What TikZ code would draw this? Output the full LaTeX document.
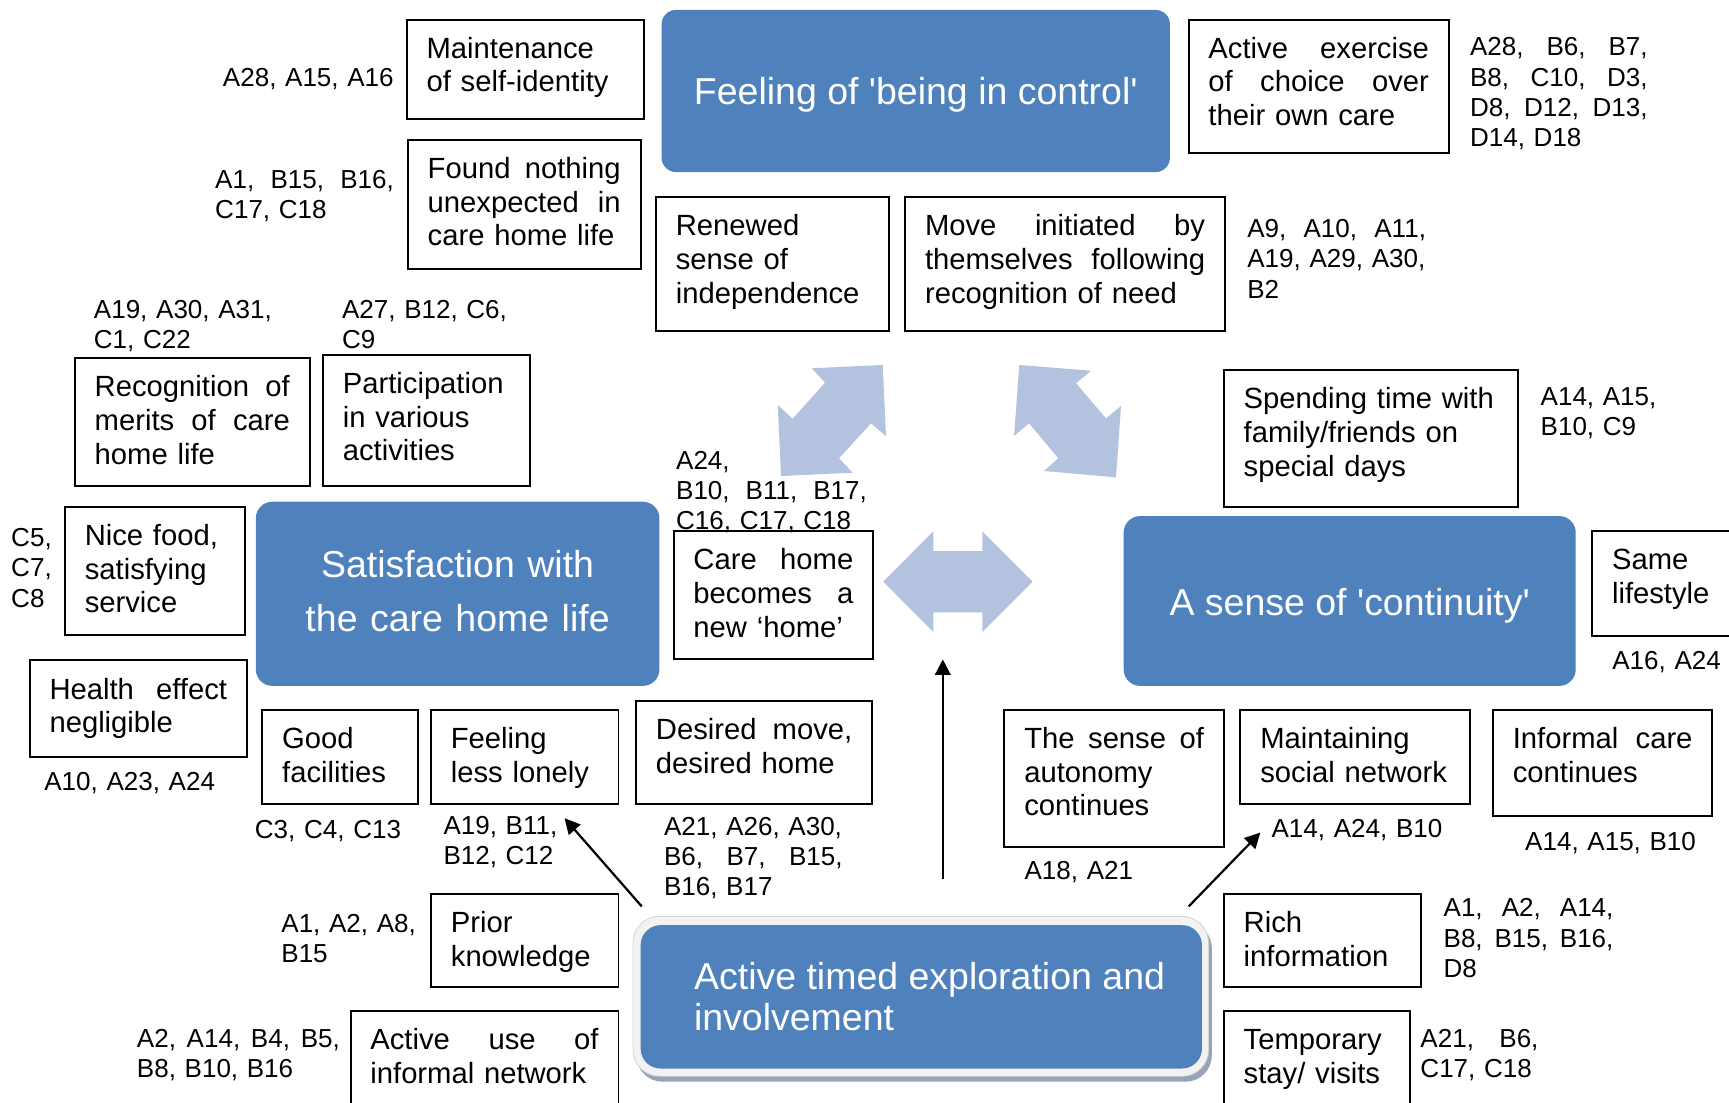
\documentclass[tikz,border=0pt]{standalone}
\usepackage{fontspec}
\setmainfont{Liberation Sans}
\usetikzlibrary{arrows.meta,backgrounds}

\definecolor{themeblue}{HTML}{4F81BD}
\definecolor{flowblue}{HTML}{B3C3DF}
\definecolor{rimgray}{HTML}{F2F2F2}
\definecolor{rimedge}{HTML}{D6D6D6}
\definecolor{shadowblue}{HTML}{95A4B9}

\newcommand\boxfont{\fontsize{26.5pt}{30.5pt}\selectfont}
\newcommand\reffont{\fontsize{23.6pt}{27.5pt}\selectfont}
\newcommand\themefont{\fontsize{34pt}{40pt}\selectfont}

\begin{document}
\begin{tikzpicture}[x=1pt,y=-1pt,
  bx/.style={draw, line width=1.8pt, inner xsep=18pt, inner ysep=0pt,
             text height=35pt, anchor=north west, font=\boxfont},
  ref/.style={inner sep=0pt, anchor=base west, font=\reffont, text width=175pt},
  theme/.style={fill=themeblue, text=white, font=\themefont, inner sep=0pt,
                rounded corners=15pt},
  flow/.style={fill=flowblue, draw=none},
  conn/.style={line width=2pt, -{Triangle[length=14pt,width=14pt]}}]

\useasboundingbox (0,0) rectangle (1568,999.4);
\clip (0,0) rectangle (1568,999.4);

% ---------- theme blocks ----------
\node[theme, rounded corners=13pt, minimum width=461pt, minimum height=147pt,
      text height=30pt, text depth=6pt]
  (control) at (830.5,82.5) {Feeling of \textquotesingle being in control\textquotesingle};
\node[theme, minimum width=366pt, minimum height=167pt, align=center,
      text width=366pt, text height=26pt, text depth=55pt,
      font=\fontsize{34pt}{49pt}\selectfont]
  (satisf) at (415,538.5) {Satisfaction with\\the care home life};
\node[theme, minimum width=410pt, minimum height=154pt,
      text height=32pt, text depth=6pt]
  (continuity) at (1224,545) {A sense of \textquotesingle continuity\textquotesingle};
\node[theme, rounded corners=18pt, minimum width=509pt, minimum height=130pt,
      align=left, font=\fontsize{34pt}{37pt}\selectfont]
  (explore) at (835.5,904) {\hspace*{15pt}Active timed exploration and\\\hspace*{15pt}involvement};
\begin{scope}[on background layer]
  \fill[shadowblue, rounded corners=24pt] (577,836) rectangle (1099,981);
  \filldraw[fill=rimgray, draw=rimedge, line width=0.8pt, rounded corners=24pt]
    (574,831) rectangle (1096,976);
\end{scope}

% ---------- broad two-way arrows ----------
\fill[flow] (736.1,334.0) -- (800.5,331.0) -- (803.5,395.4) -- (789.9,383.9)
  -- (760.9,415.6) -- (773.3,428.7) -- (708.3,431.7) -- (705.3,367.3)
  -- (718.9,379.7) -- (748.2,347.0) -- cycle;
\fill[flow] (924.4,331.0) -- (989.4,336.2) -- (975.8,347.6) -- (1003.0,379.4)
  -- (1016.6,368.2) -- (1012.1,432.9) -- (946.8,427.1) -- (959.8,415.6)
  -- (933.2,383.9) -- (919.6,395.4) -- cycle;
\fill[flow] (801,527.5) -- (846.4,481.8) -- (846.4,499.7) -- (890.8,499.7)
  -- (890.8,481.8) -- (936.5,527.5) -- (890.8,573.2) -- (890.8,555.3)
  -- (846.4,555.3) -- (846.4,573.2) -- cycle;

% ---------- sub-theme boxes ----------
\node[bx, text width=179pt, text depth=55pt] (selfid) at (368,17)
  {Maintenance\\of self-identity};
\node[bx, text width=175pt, text depth=82pt] (nothing) at (369,126)
  {Found\hfill nothing\\unexpected\hfill in\\care home life};
\node[bx, text width=200pt, text depth=86pt] (exercise) at (1077,17)
  {Active\hfill exercise\\of\hfill choice\hfill over\\their own care};
\node[bx, text width=175pt, text depth=86pt] (renewed) at (594,178)
  {Renewed\\sense of\\independence};
\node[bx, text width=254pt, text depth=86pt] (initiated) at (820,178)
  {Move\hfill initiated\hfill by\\themselves\hfill following\\recognition of need};
\node[bx, text width=177pt, text depth=81pt] (merits) at (67,324)
  {Recognition\hfill of\\merits\hfill of\hfill care\\home life};
\node[bx, text width=152pt, text depth=84pt] (activities) at (292,321)
  {Participation\\in various\\activities};
\node[bx, text width=231pt, text depth=89pt] (spending) at (1109,335)
  {Spending time with\\family/friends on\\special days};
\node[bx, text width=127pt, text depth=81pt] (food) at (58,459)
  {Nice food,\\satisfying\\service};
\node[bx, text width=145pt, text depth=81pt] (newhome) at (610,481)
  {Care\hfill home\\becomes\hfill a\\new `home'};
\node[bx, text width=114pt, text depth=60pt] (lifestyle) at (1443,481)
  {Same\\lifestyle};
\node[bx, text width=161pt, text depth=53pt] (health) at (26,598)
  {Health\hfill effect\\negligible};
\node[bx, text width=105pt, text depth=50pt] (facilities) at (237,643)
  {Good\\facilities};
\node[bx, text width=134pt, text depth=50pt] (lonely) at (390,643)
  {Feeling\\less lonely};
\node[bx, text width=178pt, text depth=58pt] (desired) at (576,635)
  {Desired\hfill move,\\desired home};
\node[bx, text width=163pt, text depth=89pt] (autonomy) at (910,643)
  {The\hfill sense\hfill of\\autonomy\\continues};
\node[bx, text width=172pt, text depth=50pt] (social) at (1124,643)
  {Maintaining\\social network};
\node[bx, text width=163pt, text depth=61pt] (informal) at (1353,643)
  {Informal\hfill care\\continues};
\node[bx, text width=134pt, text depth=49pt] (prior) at (390,810)
  {Prior\\knowledge};
\node[bx, text width=143pt, text depth=49pt] (rich) at (1109,810)
  {Rich\\information};
\node[bx, text width=207pt, text depth=65pt] (network) at (317,916)
  {Active\hfill use\hfill of\\informal network};
\node[bx, text width=133pt, text depth=65pt] (temporary) at (1109,916)
  {Temporary\\stay/ visits};

% ---------- participant references ----------
\node[ref] (selfidref) at (202,78.5) {A28, A15, A16};
\node[ref, text width=162pt] (nothingref) at (195,170.5)
  {A1,\hfill B15,\hfill B16,\\C17, C18};
\node[ref, text width=161pt] (exerciseref) at (1333,50.5)
  {A28,\hfill B6,\hfill B7,\\B8,\hfill C10,\hfill D3,\\D8,\hfill D12,\hfill D13,\\D14, D18};
\node[ref, text width=162pt] (initiatedref) at (1131,215.5)
  {A9,\hfill A10,\hfill A11,\\A19, A29, A30,\\B2};
\node[ref] (meritsref) at (85,288.5) {A19, A30, A31,\\C1, C22};
\node[ref] (activitiesref) at (310,288.5) {A27, B12, C6,\\C9};
\node[ref] (spendingref) at (1397,367.5) {A14, A15,\\B10, C9};
\node[ref, text width=173pt] (newhomeref) at (613,425.5)
  {A24,\\B10,\hfill B11,\hfill B17,\\C16, C17, C18};
\node[ref] (foodref) at (10,495.5) {C5,\\C7,\\C8};
\node[ref] (lifestyleref) at (1462,607.5) {A16, A24};
\node[ref] (healthref) at (40,716.5) {A10, A23, A24};
\node[ref] (facilitiesref) at (231,760.5) {C3, C4, C13};
\node[ref] (lonelyref) at (402,756.5) {A19, B11,\\B12, C12};
\node[ref, text width=162pt] (desiredref) at (602,757.5)
  {A21, A26, A30,\\B6,\hfill B7,\hfill B15,\\B16, B17};
\node[ref] (autonomyref) at (929,797.5) {A18, A21};
\node[ref] (socialref) at (1153,759.5) {A14, A24, B10};
\node[ref] (informalref) at (1383,771.5) {A14, A15, B10};
\node[ref] (priorref) at (255,845.5) {A1, A2, A8,\\B15};
\node[ref, text width=154pt] (richref) at (1309,831.5)
  {A1,\hfill A2,\hfill A14,\\B8,\hfill B15,\hfill B16,\\D8};
\node[ref, text width=184pt] (networkref) at (124,949.5)
  {A2,\hfill A14,\hfill B4,\hfill B5,\\B8, B10, B16};
\node[ref, text width=107pt] (temporaryref) at (1288,949.5)
  {A21,\hfill B6,\\C17, C18};

% ---------- influence arrows ----------
\coordinate (upfrom) at (855,797);
\coordinate (upto) at (855,598);
\coordinate (leftfrom) at (582,822);
\coordinate (leftto) at (512,742);
\coordinate (rightfrom) at (1078,822);
\coordinate (rightto) at (1143,755);
\draw[conn] (upfrom) -- (upto);
\draw[conn] (leftfrom) -- (leftto);
\draw[conn] (rightfrom) -- (rightto);
\end{tikzpicture}
\end{document}
